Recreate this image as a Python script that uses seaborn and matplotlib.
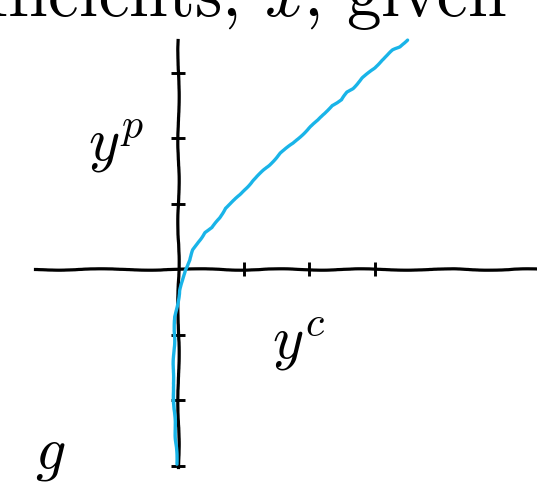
import numpy as np
import pandas as pd
import matplotlib
matplotlib.use("Agg")
import matplotlib.pyplot as plt
import seaborn as sns

# Curve traced in (y^c, y^p) coordinates
yc = [-0.015, -0.015, -0.076, -0.076, -0.076, -0.076, -0.046, 0.03, 0.076, 0.107,
      0.18, 0.23, 0.31, 0.41, 0.52, 0.64, 0.72, 0.82, 0.95, 1.15, 1.40, 1.56,
      1.76, 2.02, 2.14, 2.35, 2.50, 2.58, 2.67, 2.82, 3.01, 3.11, 3.28, 3.39, 3.50]
yp = [-3.04, -2.92, -2.41, -2.0, -1.54, -1.04, -0.73, -0.32, -0.17, -0.015,
      0.14, 0.29, 0.41, 0.56, 0.63, 0.78, 0.93, 1.02, 1.13, 1.36, 1.59, 1.77,
      1.92, 2.17, 2.27, 2.50, 2.58, 2.70, 2.76, 2.92, 3.07, 3.19, 3.34, 3.39, 3.50]

x_ticks = [1, 2, 3]
y_ticks = [-3, -2, -1, 1, 2, 3]

sns.set_style("white")
plt.rcParams["font.family"] = "serif"
plt.rcParams["font.serif"] = ["cmr10", "DejaVu Serif"]
plt.rcParams["mathtext.fontset"] = "cm"
plt.rcParams["axes.unicode_minus"] = False
plt.rcParams["text.color"] = "black"

df = pd.DataFrame({"yc": yc, "yp": yp})

fig = plt.figure(figsize=(5.37, 4.86), dpi=100)
ax = fig.add_axes([0, 0, 1, 1])

sns.lineplot(data=df, x="yc", y="yp", sort=False, ax=ax,
             color="#19b4e8", linewidth=2.4, zorder=3)

# 65.5 px per unit, origin at (178, 269) px
ax.set_xlim(-178 / 65.5, (537 - 178) / 65.5)
ax.set_ylim(-(486 - 269) / 65.5, 269 / 65.5)

for side in ("top", "right"):
    ax.spines[side].set_visible(False)
ax.spines["left"].set_position(("data", 0))
ax.spines["bottom"].set_position(("data", 0))
ax.spines["left"].set_bounds(-3.02, 3.5)
ax.spines["bottom"].set_bounds(-2.18, 5.6)
for side in ("left", "bottom"):
    ax.spines[side].set_linewidth(2.3)
    ax.spines[side].set_color("black")
    ax.spines[side].set_sketch_params(0.7, 110, 3)

ax.set_xticks(x_ticks)
ax.set_yticks(y_ticks)
ax.tick_params(bottom=True, left=True, direction="inout", length=9.5, width=2.1,
               color="black", labelbottom=False, labelleft=False)
for t in ax.xaxis.get_ticklines() + ax.yaxis.get_ticklines():
    t.set_sketch_params(0.5, 40, 2)
for ln in ax.lines:
    ln.set_sketch_params(0.5, 40, 2)

ax.set_xlabel("")
ax.set_ylabel("")
ax.grid(False)

ax.text(-1.37, 1.66, r"$y^p$", fontsize=43, color="black", ha="left", va="baseline")
ax.text(1.44, -1.36, r"$y^c$", fontsize=43, color="black", ha="left", va="baseline")
ax.text(-2.18, -3.05, r"$g$", fontsize=43, color="black", ha="left", va="baseline")

fig.text(507 / 537, 1 - 16 / 486, r"coefficients, $x$, given",
         fontsize=50, color="black", ha="right", va="baseline")

fig.savefig("out.png", dpi=100)
